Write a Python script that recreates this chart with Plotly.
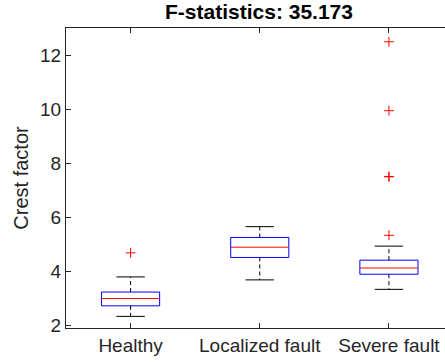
import plotly.graph_objects as go

categories = ["Healthy", "Localized fault", "Severe fault"]
q1 = [2.72, 4.51, 3.89]
median = [2.99, 4.89, 4.12]
q3 = [3.23, 5.25, 4.41]
lower_whisker = [2.33, 3.68, 3.33]
upper_whisker = [3.79, 5.65, 4.93]
outliers = [[4.68], [], [5.33, 7.5, 7.5, 9.94, 12.49]]
title_text = "F-statistics: 35.173"
y_title = "Crest factor"
y_ticks = [2, 4, 6, 8, 10, 12]

BOX_HALF = 0.225
CAP_HALF = 0.11
TXT = "#262626"
FONT = "Liberation Sans, Arial, sans-serif"

fig = go.Figure()
xs = list(range(1, len(categories) + 1))
for i, x in enumerate(xs):
    fig.add_trace(go.Scatter(x=[x, x, None, x, x],
                             y=[q3[i], upper_whisker[i], None, q1[i], lower_whisker[i]],
                             mode="lines", line=dict(color="black", width=1, dash="4px,3px"),
                             hoverinfo="skip", showlegend=False))
    fig.add_trace(go.Scatter(x=[x - CAP_HALF, x + CAP_HALF, None, x - CAP_HALF, x + CAP_HALF],
                             y=[upper_whisker[i], upper_whisker[i], None, lower_whisker[i], lower_whisker[i]],
                             mode="lines", line=dict(color="black", width=1),
                             hoverinfo="skip", showlegend=False))
    fig.add_trace(go.Scatter(x=[x - BOX_HALF, x + BOX_HALF, x + BOX_HALF, x - BOX_HALF, x - BOX_HALF],
                             y=[q1[i], q1[i], q3[i], q3[i], q1[i]],
                             mode="lines", line=dict(color="#0000ff", width=1),
                             hoverinfo="skip", showlegend=False))
    fig.add_trace(go.Scatter(x=[x - BOX_HALF, x + BOX_HALF], y=[median[i], median[i]],
                             mode="lines", line=dict(color="#ff0000", width=1),
                             hoverinfo="skip", showlegend=False))
    if outliers[i]:
        fig.add_trace(go.Scatter(x=[x] * len(outliers[i]), y=outliers[i], mode="markers",
                                 marker=dict(symbol="cross-thin", size=7,
                                             line=dict(color="#ff0000", width=1)),
                                 hoverinfo="skip", showlegend=False))

fig.update_layout(
    width=445, height=362,
    margin=dict(l=66, r=0, t=28, b=34, autoexpand=False),
    plot_bgcolor="white", paper_bgcolor="white",
    font=dict(family=FONT, color=TXT, size=19),
    title=dict(text="<b>" + title_text + "</b>", x=259 / 445, xanchor="center",
               y=1 - 12 / 362, yanchor="middle", font=dict(size=21, color="black")),
    xaxis=dict(range=[0.5, 3.434], tickvals=xs, ticktext=categories, automargin=False,
               showline=True, linecolor=TXT, linewidth=1, mirror="ticks",
               ticks="inside", ticklen=5, tickcolor=TXT, showgrid=False, zeroline=False,
               tickfont=dict(size=19)),
    yaxis=dict(range=[1.9, 13], tickvals=y_ticks, showline=True, linecolor=TXT, linewidth=1,
               automargin=False, mirror=False, ticks="inside", ticklen=5, tickcolor=TXT,
               showgrid=False, zeroline=False, tickfont=dict(size=19),
               title=dict(text=y_title, font=dict(size=20), standoff=6)),
)
fig.write_html("out.html", config={"displayModeBar": False},
               post_script="document.body.style.margin='0';")
